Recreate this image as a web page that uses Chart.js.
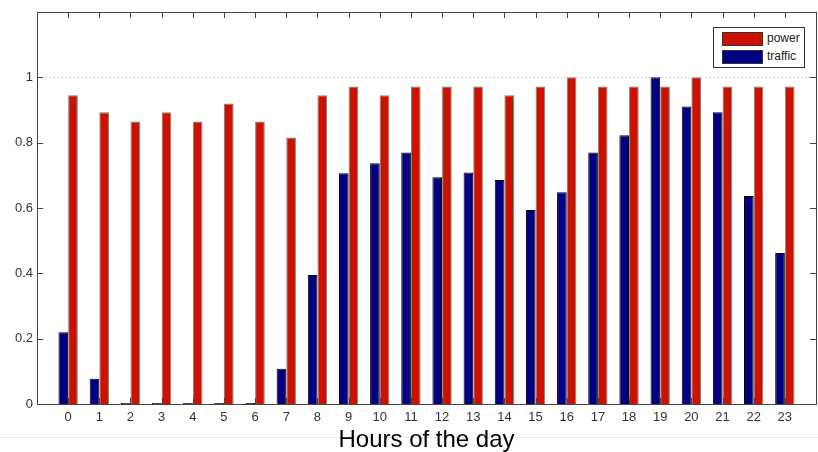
<!DOCTYPE html>
<html>
<head>
<meta charset="utf-8">
<script src="https://cdn.jsdelivr.net/npm/chart.js@4"></script>
<style>
  html, body { margin: 0; padding: 0; background: #fff; overflow: hidden; width: 818px; height: 452px; }
  #wrap { position: relative; width: 822px; height: 452px; }
  #leyenda {
    position: absolute; left: 713px; top: 27px; width: 90px; height: 39px;
    border: 1px solid #333; background: #fff;
    font-family: "Liberation Sans", Arial, sans-serif; font-size: 12px; color: #222;
  }
  .item { position: absolute; left: 8px; height: 14px; line-height: 14px; }
  .caja { position: absolute; left: 0; top: 0; width: 39px; height: 12px; border: 1px solid #333; }
  .texto { position: absolute; left: 45px; top: -1px; white-space: nowrap; }
</style>
</head>
<body>
<div id="wrap">
  <canvas id="myChart"></canvas>
  <div id="leyenda"></div>
</div>
<script>
// Datos
const hours = ["0","1","2","3","4","5","6","7","8","9","10","11","12","13","14","15","16","17","18","19","20","21","22","23"];
const power = [0.945, 0.893, 0.865, 0.893, 0.865, 0.92, 0.865, 0.816, 0.945, 0.972, 0.945, 0.972,
               0.972, 0.972, 0.945, 0.972, 1.0, 0.972, 0.972, 0.972, 1.0, 0.972, 0.972, 0.972];
const traffic = [0.22, 0.077, 0.003, 0.003, 0.003, 0.003, 0.003, 0.108, 0.395, 0.706, 0.737, 0.77,
                 0.694, 0.709, 0.686, 0.594, 0.648, 0.77, 0.823, 1.0, 0.911, 0.893, 0.637, 0.462];
const yTicks = [0, 0.2, 0.4, 0.6, 0.8, 1];

const colorPower = "rgb(204, 17, 0)";
const colorTraffic = "rgb(0, 0, 128)";

// eje x de -1 a 24, como en el original
const labels = ["-1"].concat(hours, ["24"]);
const pad = (arr) => [null].concat(arr, [null]);

const ctx = document.getElementById("myChart");

// marco, ticks hacia adentro y linea punteada en 1
const marco = {
  id: "marco",
  beforeDraw(chart) {
    const c = chart.ctx;
    c.save();
    c.strokeStyle = "#ececec";
    c.lineWidth = 1;
    c.beginPath();
    c.moveTo(0, 437.5);
    c.lineTo(chart.width, 437.5);
    c.stroke();
    c.restore();
  },
  afterDatasetsDraw(chart) {
    const c = chart.ctx;
    const a = chart.chartArea;
    const x = chart.scales.x;
    const y = chart.scales.y;
    c.save();
    // linea punteada en y = 1
    const y1 = Math.round(y.getPixelForValue(1)) + 0.5;
    c.strokeStyle = "#aaa";
    c.setLineDash([1, 3]);
    c.beginPath();
    c.moveTo(a.left, y1);
    c.lineTo(a.right, y1);
    c.stroke();
    c.setLineDash([]);
    c.strokeStyle = "#444";
    c.lineWidth = 1;
    c.beginPath();
    hours.forEach((h) => {
      const px = Math.round(x.getPixelForValue(labels.indexOf(h))) + 0.5;
      c.moveTo(px, a.top);
      c.lineTo(px, a.top + 6);
      c.moveTo(px, a.bottom);
      c.lineTo(px, a.bottom - 6);
    });
    yTicks.concat([1.2]).forEach((v) => {
      const py = Math.round(y.getPixelForValue(v)) + 0.5;
      c.moveTo(a.left, py);
      c.lineTo(a.left + 6, py);
      c.moveTo(a.right, py);
      c.lineTo(a.right - 6, py);
    });
    c.stroke();
    c.strokeRect(Math.round(a.left) + 0.5, Math.round(a.top) + 0.5,
                 Math.round(a.right - a.left), Math.round(a.bottom - a.top));
    c.restore();
  }
};

const myChart = new Chart(ctx, {
  type: "bar",
  data: {
    labels: labels,
    datasets: [
      {
        label: "traffic",
        data: pad(traffic),
        backgroundColor: colorTraffic,
        borderColor: "#000",
        borderWidth: 1,
        inflateAmount: 0,
      },
      {
        label: "power",
        data: pad(power),
        backgroundColor: colorPower,
        borderColor: "#6b8a74",
        borderWidth: 1,
        inflateAmount: 0,
      },
    ],
  },
  options: {
    responsive: true,
    maintainAspectRatio: false,
    animation: false,
    layout: { padding: { left: 0, right: 3, top: 12, bottom: 0 } },
    datasets: {
      bar: { categoryPercentage: 0.62, barPercentage: 1.0, grouped: true },
    },
    plugins: {
      legend: { display: false },
      tooltip: { enabled: false },
    },
    scales: {
      x: {
        offset: false,
        grid: { display: false, drawTicks: false },
        border: { display: false },
        ticks: {
          autoSkip: false,
          maxRotation: 0,
          padding: 6,
          color: "#333",
          font: { family: "Liberation Sans", size: 13 },
          callback: function (value) {
            const l = this.getLabelForValue(value);
            return hours.includes(l) ? l : "";
          },
        },
        title: {
          display: true,
          text: "Hours of the day",
          color: "#000",
          font: { family: "Liberation Sans", size: 24 },
          padding: { top: 0, bottom: -3 },
        },
        afterFit: (scale) => { scale.height = 48; },
      },
      y: {
        min: 0,
        max: 1.2,
        grid: { display: false, drawTicks: false },
        border: { display: false },
        ticks: {
          stepSize: 0.2,
          padding: 4,
          color: "#333",
          font: { family: "Liberation Sans", size: 13 },
          callback: (v) => {
            const r = Number(v.toFixed(1));
            return r > 1 ? "" : String(r);
          },
        },
        afterFit: (scale) => { scale.width = 37; },
      },
    },
  },
  plugins: [marco],
});

// leyenda
const leyenda = document.getElementById("leyenda");
[["power", colorPower, 4], ["traffic", colorTraffic, 22]].forEach(([nombre, color, top]) => {
  const item = document.createElement("div");
  item.className = "item";
  item.style.top = top + "px";
  item.innerHTML = `<div class="caja" style="background:${color}"></div><span class="texto">${nombre}</span>`;
  leyenda.appendChild(item);
});
</script>
</body>
</html>
